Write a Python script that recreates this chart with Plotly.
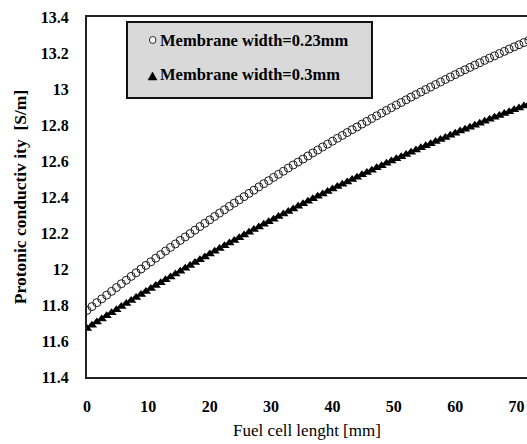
import plotly.graph_objects as go

# Position along the cell [mm]
length_mm = [
    0.0, 0.8, 1.6, 2.4, 3.2, 4.0, 4.8, 5.6, 6.4, 7.2,
    8.0, 8.8, 9.6, 10.4, 11.2, 12.0, 12.8, 13.6, 14.4, 15.2,
    16.0, 16.8, 17.6, 18.4, 19.2, 20.0, 20.8, 21.6, 22.4, 23.2,
    24.0, 24.8, 25.6, 26.4, 27.2, 28.0, 28.8, 29.6, 30.4, 31.2,
    32.0, 32.8, 33.6, 34.4, 35.2, 36.0, 36.8, 37.6, 38.4, 39.2,
    40.0, 40.8, 41.6, 42.4, 43.2, 44.0, 44.8, 45.6, 46.4, 47.2,
    48.0, 48.8, 49.6, 50.4, 51.2, 52.0, 52.8, 53.6, 54.4, 55.2,
    56.0, 56.8, 57.6, 58.4, 59.2, 60.0, 60.8, 61.6, 62.4, 63.2,
    64.0, 64.8, 65.6, 66.4, 67.2, 68.0, 68.8, 69.6, 70.4, 71.2,
    72.0,
]

# Protonic conductivity [S/m], membrane width 0.23 mm
sigma_023 = [
    11.770, 11.791, 11.813, 11.834, 11.855, 11.876, 11.897, 11.918, 11.938, 11.959,
    11.979, 12.000, 12.020, 12.040, 12.060, 12.080, 12.100, 12.120, 12.139, 12.159,
    12.178, 12.197, 12.216, 12.236, 12.254, 12.273, 12.292, 12.311, 12.329, 12.348,
    12.366, 12.384, 12.402, 12.420, 12.438, 12.456, 12.474, 12.491, 12.509, 12.526,
    12.543, 12.561, 12.578, 12.594, 12.611, 12.628, 12.645, 12.661, 12.678, 12.694,
    12.710, 12.726, 12.742, 12.758, 12.774, 12.789, 12.805, 12.820, 12.836, 12.851,
    12.866, 12.881, 12.896, 12.911, 12.925, 12.940, 12.955, 12.969, 12.983, 12.997,
    13.011, 13.025, 13.039, 13.053, 13.067, 13.080, 13.094, 13.107, 13.120, 13.133,
    13.146, 13.159, 13.172, 13.184, 13.197, 13.209, 13.222, 13.234, 13.246, 13.258,
    13.270,
]

# Protonic conductivity [S/m], membrane width 0.3 mm
sigma_030 = [
    11.670, 11.688, 11.705, 11.722, 11.740, 11.757, 11.774, 11.791, 11.808, 11.825,
    11.841, 11.858, 11.875, 11.891, 11.908, 11.924, 11.940, 11.956, 11.972, 11.988,
    12.004, 12.020, 12.036, 12.052, 12.067, 12.083, 12.098, 12.114, 12.129, 12.144,
    12.159, 12.174, 12.189, 12.204, 12.219, 12.234, 12.248, 12.263, 12.277, 12.292,
    12.306, 12.320, 12.334, 12.348, 12.362, 12.376, 12.390, 12.404, 12.417, 12.431,
    12.444, 12.458, 12.471, 12.484, 12.497, 12.510, 12.523, 12.536, 12.549, 12.562,
    12.574, 12.587, 12.600, 12.612, 12.624, 12.636, 12.649, 12.661, 12.673, 12.685,
    12.696, 12.708, 12.720, 12.731, 12.743, 12.754, 12.766, 12.777, 12.788, 12.799,
    12.810, 12.821, 12.832, 12.843, 12.853, 12.864, 12.874, 12.885, 12.895, 12.905,
    12.916,
]

x_ticks = [0, 10, 20, 30, 40, 50, 60, 70]
y_ticks = [11.4, 11.6, 11.8, 12.0, 12.2, 12.4, 12.6, 12.8, 13.0, 13.2, 13.4]
y_tick_text = ["11.4", "11.6", "11.8", "12", "12.2", "12.4", "12.6", "12.8", "13", "13.2", "13.4"]

legend_labels = ["Membrane width=0.23mm", "Membrane width=0.3mm"]

SERIF = "Liberation Serif, Times New Roman, serif"

fig = go.Figure()
fig.add_trace(go.Scatter(
    x=length_mm, y=sigma_023, mode="markers", name=legend_labels[0],
    marker=dict(symbol="circle-open", size=8, color="#1a1a1a", line=dict(width=1, color="#1a1a1a")),
    showlegend=False,
))
fig.add_trace(go.Scatter(
    x=length_mm, y=sigma_030, mode="markers", name=legend_labels[1],
    marker=dict(symbol="triangle-up", size=9, color="#000000", line=dict(width=0)),
    showlegend=False,
))

# Legend box drawn by hand (paper coordinates)
fig.add_shape(type="rect", xref="paper", yref="paper",
              x0=0.0909, x1=0.6477, y0=0.775, y1=0.986,
              fillcolor="#d9d9d9", line=dict(color="#111111", width=2), layer="above")
fig.add_shape(type="circle", xref="paper", yref="paper",
              x0=0.1420, x1=0.1568, y0=0.9264, y1=0.9458,
              fillcolor="white", line=dict(color="#222222", width=1), layer="above")
fig.add_shape(type="path", xref="paper", yref="paper",
              path="M 0.1386 0.8250 L 0.1591 0.8250 L 0.1489 0.8472 Z",
              fillcolor="black", line=dict(color="black", width=0.5), layer="above")
fig.add_annotation(xref="paper", yref="paper", x=0.1614, y=0.9361, xanchor="left", yanchor="middle",
                   text="<b>" + legend_labels[0] + "</b>", showarrow=False,
                   font=dict(family=SERIF, size=16.5, color="black"))
fig.add_annotation(xref="paper", yref="paper", x=0.1614, y=0.8389, xanchor="left", yanchor="middle",
                   text="<b>" + legend_labels[1] + "</b>", showarrow=False,
                   font=dict(family=SERIF, size=16.5, color="black"))

fig.update_layout(
    width=527, height=444,
    margin=dict(l=87, r=0, t=17, b=67),
    paper_bgcolor="white", plot_bgcolor="white",
    font=dict(family=SERIF, color="black"),
    xaxis=dict(
        range=[0, 71.7], tickvals=x_ticks, ticktext=[str(v) for v in x_ticks],
        showgrid=False, zeroline=False,
        showline=True, linecolor="#222222", linewidth=2, mirror=True,
        ticks="outside", ticklen=14, tickcolor="rgba(0,0,0,0)",
        tickfont=dict(family=SERIF, size=16, color="black", weight="bold"),
        title=dict(text="Fuel cell lenght [mm]", standoff=10,
                   font=dict(family=SERIF, size=17, color="black")),
    ),
    yaxis=dict(
        range=[11.4, 13.4], tickvals=y_ticks, ticktext=y_tick_text,
        showgrid=False, zeroline=False,
        showline=True, linecolor="#222222", linewidth=2, mirror=False,
        ticks="outside", ticklen=13, tickcolor="rgba(0,0,0,0)",
        tickfont=dict(family=SERIF, size=16, color="black", weight="bold"),
        title=dict(text="<b>Protonic conductiv ity  [S/m]</b>", standoff=10,
                   font=dict(family=SERIF, size=17.5, color="black")),
    ),
)

fig.write_html("out.html")
